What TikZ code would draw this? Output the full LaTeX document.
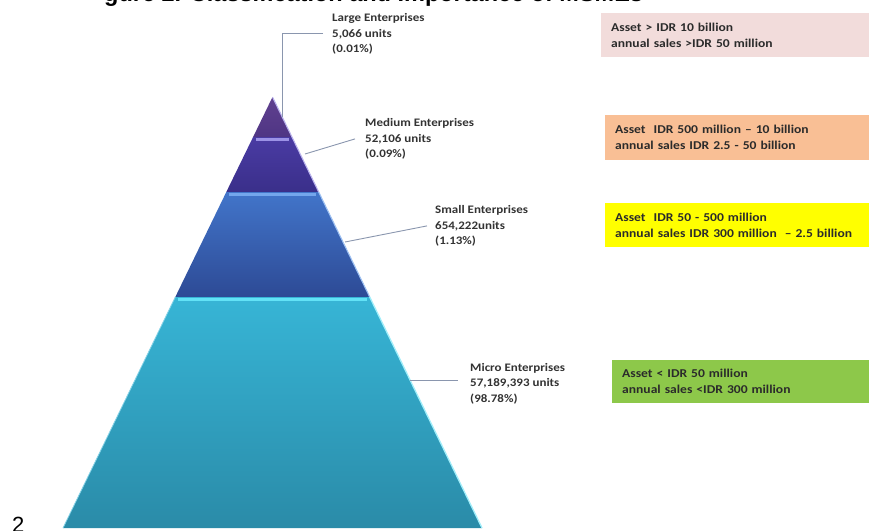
\documentclass[tikz,border=0pt]{standalone}
\usepackage{fontspec}
\setmainfont{Carlito}[FakeStretch=1.13]
\newfontfamily\headfont{Liberation Sans}
\definecolor{lbltext}{HTML}{333333}
\definecolor{boxtext}{HTML}{2B2B2B}
\definecolor{conncol}{HTML}{8A96AE}
\definecolor{purpA}{HTML}{60418F}
\definecolor{purpB}{HTML}{4F3584}
\definecolor{indA}{HTML}{4A3BA3}
\definecolor{indB}{HTML}{3A2F8A}
\definecolor{bluA}{HTML}{4275CA}
\definecolor{bluB}{HTML}{2D4A95}
\definecolor{cyaA}{HTML}{37B5D6}
\definecolor{cyaB}{HTML}{2A8BA8}
\definecolor{stripA}{HTML}{9C92E6}
\definecolor{stripB}{HTML}{74A6EC}
\definecolor{stripC}{HTML}{62E2F6}
\definecolor{pinkbox}{HTML}{F2DCDB}
\definecolor{orangebox}{HTML}{F9BF95}
\definecolor{yellowbox}{HTML}{FFFF00}
\definecolor{greenbox}{HTML}{8DC84A}
\begin{document}
\begin{tikzpicture}[x=1pt,y=-1pt,
  lbl/.style={anchor=base west, inner sep=0pt, text=lbltext,
    font=\fontsize{11.5}{15.5}\selectfont\bfseries},
  box/.style={anchor=north west, inner xsep=10pt, inner ysep=0pt,
    text width=262pt, align=left, minimum height=44pt, text=boxtext,
    font=\fontsize{12}{16}\selectfont\bfseries},
  conn/.style={draw=conncol, line width=0.9pt}]
\useasboundingbox (0,0) rectangle (869,530);
\begin{scope}
\clip (0,0) rectangle (869,530);

% heading, only its lowest part lies inside the page
\node[anchor=base west, inner sep=0pt, font=\headfont\fontsize{23.5}{26}\selectfont\bfseries]
  (head) at (104,1.5) {gure 2. Classification and Importance of MSMEs};
\node[anchor=base west, inner sep=0pt, font=\headfont\fontsize{22}{24}\selectfont]
  (pagenum) at (12,532) {2};

% pyramid bands
\shade[top color=purpA, bottom color=purpB]
  (272.5,97) -- (291.9,137) -- (253.1,137) -- cycle;
\shade[top color=indA, bottom color=indB]
  (253.1,137) -- (291.9,137) -- (318.7,192) -- (226.3,192) -- cycle;
\shade[top color=bluA, bottom color=bluB]
  (226.3,192) -- (318.7,192) -- (369.7,297) -- (175.3,297) -- cycle;
\shade[top color=cyaA, bottom color=cyaB]
  (175.3,297) -- (369.7,297) -- (482,528) -- (63,528) -- cycle;

% light strips on top of each lower band
\fill[stripA] (256,137.5) rectangle (289,141);
\fill[stripB] (229,192.5) rectangle (316,196);
\fill[stripC] (178,297.5) rectangle (367,301);

% light right-hand edges
\draw[stripA!70!white, line width=1.1pt] (272.5,97) -- (318.7,192);
\draw[stripB!70!white, line width=1.1pt] (318.7,192) -- (369.7,297);
\draw[stripC!60!white, line width=1.3pt] (369.7,297) -- (482,528);
\draw[cyaA!60!white, line width=0.8pt] (175.3,297) -- (63,528);

% segment labels
\node[lbl] (lgL) at (332,21.5) {\begin{tabular}[t]{@{}l@{}}Large Enterprises\\5,066 units\\(0.01\%)\end{tabular}};
\node[lbl] (lgM) at (365,126.5) {\begin{tabular}[t]{@{}l@{}}Medium Enterprises\\52,106 units\\(0.09\%)\end{tabular}};
\node[lbl] (lgS) at (435,213.5) {\begin{tabular}[t]{@{}l@{}}Small Enterprises\\654,222units\\(1.13\%)\end{tabular}};
\node[lbl] (lgMi) at (470,371) {\begin{tabular}[t]{@{}l@{}}Micro Enterprises\\57,189,393 units\\(98.78\%)\end{tabular}};

% connectors
\coordinate (tipL) at (282,117);
\coordinate (tipM) at (305,154);
\coordinate (tipS) at (345,242);
\coordinate (tipMi) at (410,380);
\draw[conn] ([xshift=-9pt]lgL.west) -| (tipL);
\draw[conn] ([xshift=-10pt]lgM.west) -- (tipM);
\draw[conn] ([xshift=-8pt]lgS.west) -- (tipS);
\draw[conn] (tipMi) -- ([xshift=-12pt]lgMi.west |- tipMi);

% criteria boxes
\node[box, fill=pinkbox] (bxL) at (601,12.7)
  {Asset > IDR 10 billion\\annual sales >IDR 50 million};
\node[box, fill=orangebox, minimum height=45pt] (bxM) at (605,115)
  {Asset\ \ IDR 500 million -- 10 billion\\annual sales IDR 2.5 - 50 billion};
\node[box, fill=yellowbox] (bxS) at (605,203)
  {Asset\ \ IDR 50 - 500 million\\annual sales IDR 300 million\ \ -- 2.5 billion};
\node[box, fill=greenbox, minimum height=43pt] (bxMi) at (612,360)
  {Asset < IDR 50 million\\annual sales <IDR 300 million};
\end{scope}
\end{tikzpicture}
\end{document}
